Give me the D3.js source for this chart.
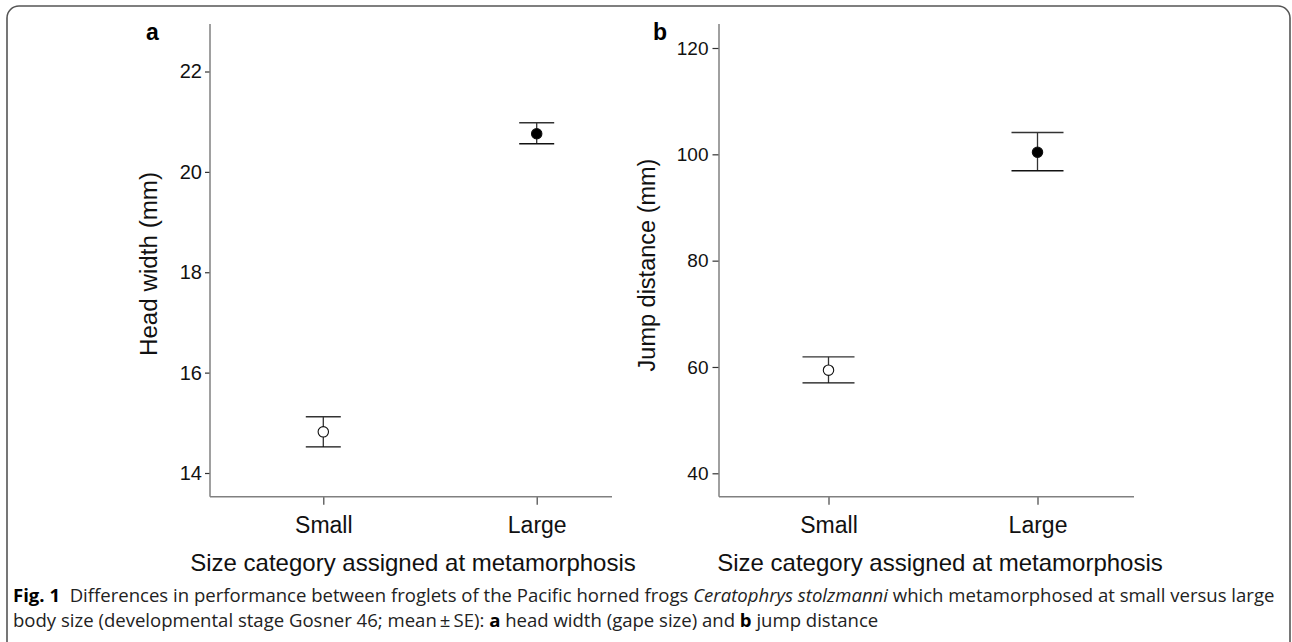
<!DOCTYPE html>
<html>
<head>
<meta charset="utf-8">
<script src="https://cdn.jsdelivr.net/npm/d3@7/dist/d3.min.js"></script>
<style>
  html, body { margin: 0; padding: 0; background: #fff; }
  svg { display: block; }
</style>
</head>
<body>
<svg id="chart" width="1292" height="642"></svg>
<script>
// ---- data ----
const categories = ["Small", "Large"];
const headMean  = [14.82, 20.76];
const headLower = [14.52, 20.56];
const headUpper = [15.12, 20.98];
const jumpMean  = [59.4, 100.4];
const jumpLower = [57.0, 96.9];
const jumpUpper = [61.9, 104.1];
const headTicks = [14, 16, 18, 20, 22];
const jumpTicks = [40, 60, 80, 100, 120];
const markerFill = ["#ffffff", "#000000"];
const xTitle = "Size category assigned at metamorphosis";

const svg = d3.select("#chart");

// frame
svg.append("rect")
  .attr("x", 7).attr("y", 6).attr("width", 1283).attr("height", 650)
  .attr("rx", 12).attr("ry", 12)
  .attr("fill", "none").attr("stroke", "#555").attr("stroke-width", 1.6);

const panels = [
  { label: "a", title: "Head width (mm)", mean: headMean, lo: headLower, hi: headUpper, ticks: headTicks,
    domain: [14, 22], yr: [473, 71.5], axisX: 210, axisEnd: 612, xr: [323.3, 536.7],
    labelX: 146, titleX: 156.5, titleY: 264, titleFs: 24.2, cap: 17.5, tickFs: 20, tickLen: 5, tickPad: 3, xTitleX: 413 },
  { label: "b", title: "Jump distance (mm)", mean: jumpMean, lo: jumpLower, hi: jumpUpper, ticks: jumpTicks,
    domain: [40, 120], yr: [473.3, 48], axisX: 719, axisEnd: 1134, xr: [828.5, 1037.5],
    labelX: 653, titleX: 655, titleY: 265, titleFs: 23.5, cap: 26, tickFs: 19, tickLen: 6.5, tickPad: 4, xTitleX: 940 }
];

const axisTop = 24, axisBottom = 496.7;

panels.forEach(p => {
  const y = d3.scaleLinear().domain(p.domain).range(p.yr);
  const x = d3.scalePoint().domain(categories).range(p.xr);
  const g = svg.append("g");

  // y axis
  const ya = g.append("g").attr("transform", `translate(${p.axisX},0)`)
    .call(d3.axisLeft(y).tickValues(p.ticks).tickSize(p.tickLen).tickPadding(p.tickPad).tickSizeOuter(0));
  ya.select(".domain").remove();
  ya.selectAll(".tick line").attr("stroke", "#333").attr("stroke-width", 1.2);
  ya.selectAll(".tick text").attr("font-family", "Liberation Sans, Arial, sans-serif")
    .attr("font-size", p.tickFs).attr("fill", "#111");
  g.append("line").attr("x1", p.axisX).attr("x2", p.axisX).attr("y1", axisTop).attr("y2", axisBottom)
    .attr("stroke", "#808080").attr("stroke-width", 1.5);

  // x axis
  const xa = g.append("g").attr("transform", `translate(0,${axisBottom})`)
    .call(d3.axisBottom(x).tickSize(8).tickSizeOuter(0));
  xa.select(".domain").remove();
  xa.selectAll(".tick line").attr("stroke", "#444").attr("stroke-width", 1.2);
  xa.selectAll(".tick text").attr("font-family", "Liberation Sans, Arial, sans-serif")
    .attr("font-size", 23).attr("fill", "#111").attr("dy", null).attr("y", 36.5);
  g.append("line").attr("x1", p.axisX).attr("x2", p.axisEnd).attr("y1", axisBottom).attr("y2", axisBottom)
    .attr("stroke", "#808080").attr("stroke-width", 1.5);

  // error bars
  const idx = categories.map((c, i) => i);
  const eb = g.selectAll(".eb").data(idx).enter().append("g");
  eb.append("line").attr("x1", i => x(categories[i])).attr("x2", i => x(categories[i]))
    .attr("y1", i => y(p.hi[i])).attr("y2", i => y(p.lo[i]))
    .attr("stroke", "#333").attr("stroke-width", 1.3);
  eb.append("line").attr("x1", i => x(categories[i]) - p.cap).attr("x2", i => x(categories[i]) + p.cap)
    .attr("y1", i => y(p.hi[i])).attr("y2", i => y(p.hi[i]))
    .attr("stroke", "#333").attr("stroke-width", 1.4);
  eb.append("line").attr("x1", i => x(categories[i]) - p.cap).attr("x2", i => x(categories[i]) + p.cap)
    .attr("y1", i => y(p.lo[i])).attr("y2", i => y(p.lo[i]))
    .attr("stroke", "#111").attr("stroke-width", 1.4);
  eb.append("circle").attr("cx", i => x(categories[i])).attr("cy", i => y(p.mean[i]))
    .attr("r", 5.2).attr("fill", i => markerFill[i]).attr("stroke", "#111").attr("stroke-width", 1.1);

  // panel letter
  g.append("text").attr("x", p.labelX).attr("y", 40).text(p.label)
    .attr("font-family", "Liberation Sans, Arial, sans-serif").attr("font-weight", "bold")
    .attr("font-size", 23).attr("fill", "#000");

  // y title
  g.append("text").attr("transform", `translate(${p.titleX},${p.titleY}) rotate(-90)`)
    .attr("text-anchor", "middle").text(p.title)
    .attr("font-family", "Liberation Sans, Arial, sans-serif").attr("font-size", p.titleFs).attr("fill", "#111");

  // x title
  g.append("text").attr("x", p.xTitleX).attr("y", 571).attr("text-anchor", "middle").text(xTitle)
    .attr("font-family", "Liberation Sans, Arial, sans-serif").attr("font-size", 24).attr("fill", "#111");
});

// caption
const capFont = "Open Sans, Noto Sans, sans-serif";
function makeLine(yPos, parts) {
  const t = svg.append("text").attr("x", 13).attr("y", yPos)
    .attr("font-family", capFont).attr("font-size", 16).attr("fill", "#222");
  parts.forEach(pt => {
    const s = t.append("tspan").text(pt.t);
    if (pt.b) s.attr("font-weight", "bold").attr("fill", "#000");
    if (pt.i) s.attr("font-style", "italic");
  });
  return t;
}
const line1 = makeLine(602, [
  { t: "Fig. 1", b: true },
  { t: "\u00a0 Differences in performance between froglets of the Pacific horned frogs " },
  { t: "Ceratophrys stolzmanni", i: true },
  { t: " which metamorphosed at small versus large" }
]);
const line2 = makeLine(627, [
  { t: "body size (developmental stage Gosner 46; mean\u2009\u00b1\u2009SE): " },
  { t: "a", b: true },
  { t: " head width (gape size) and " },
  { t: "b", b: true },
  { t: " jump distance" }
]);
const capSize = 16 * 1262 / line1.node().getComputedTextLength();
line1.attr("font-size", capSize);
line2.attr("font-size", capSize);
</script>
</body>
</html>
